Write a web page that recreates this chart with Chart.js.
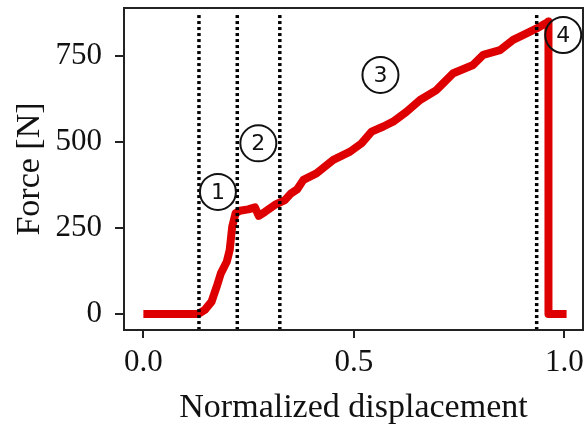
<!DOCTYPE html>
<html>
<head>
<meta charset="utf-8">
<title>Force vs displacement</title>
<script src="https://cdn.jsdelivr.net/npm/chart.js@4.4.1/dist/chart.umd.min.js"></script>
<style>
  html, body { margin: 0; padding: 0; background: #fff; }
  #wrap { width: 585px; height: 427px; }
</style>
</head>
<body>
<div id="wrap"><canvas id="forceChart" width="585" height="427"></canvas></div>
<script>
// Messkurve
const dispX = [0, 0.130, 0.146, 0.162, 0.174, 0.184, 0.198, 0.205, 0.211, 0.219,
  0.229, 0.249, 0.265, 0.274, 0.289, 0.312, 0.336, 0.350, 0.365, 0.380,
  0.411, 0.451, 0.491, 0.518, 0.542, 0.570, 0.593, 0.625, 0.657, 0.696,
  0.704, 0.736, 0.783, 0.807, 0.847, 0.878, 0.910, 0.934, 0.958, 0.962,
  0.962, 1.005];
const forceY = [0, 0, 12, 36, 79, 118, 152, 186, 254, 293,
  300, 304, 310, 285, 297, 317, 331, 350, 362, 390,
  409, 448, 472, 496, 530, 545, 559, 588, 622, 651,
  661, 700, 724, 753, 767, 797, 816, 830, 847, 850,
  0, 0];

// Phasengrenzen (gepunktete Linien)
const phaseX = [0.132, 0.223, 0.324, 0.934];
const phaseTop = 869;
const phaseBottom = -50;

// Markierungen 1-4
const markX = [0.177, 0.273, 0.563, 0.997];
const markY = [355, 496, 695, 811];
const markText = ["1", "2", "3", "4"];

// Achsen
const xTicks = [0, 0.5, 1.0];
const yTicks = [0, 250, 500, 750];
const xRange = [-0.046, 1.044];
const yRange = [-46.5, 889.5];

const serif = "'Liberation Serif', 'Times New Roman', serif";

const datasets = phaseX.map(x => ({
  data: [{ x: x, y: phaseTop }, { x: x, y: phaseBottom }],
  showLine: true,
  borderColor: "#000",
  borderWidth: 3.5,
  borderDash: [3, 3],
  pointRadius: 0
}));
datasets.push({
  data: dispX.map((x, i) => ({ x: x, y: forceY[i] })),
  showLine: true,
  borderColor: "rgb(222,0,0)",
  borderWidth: 8,
  borderJoinStyle: "round",
  borderCapStyle: "butt",
  pointRadius: 0,
  tension: 0
});

// Rahmen wie bei matplotlib
const framePlugin = {
  id: "frame",
  afterDatasetsDraw(chart) {
    const a = chart.chartArea;
    const ctx = chart.ctx;
    ctx.save();
    ctx.strokeStyle = "#222";
    ctx.lineWidth = 2;
    ctx.strokeRect(a.left, a.top, a.right - a.left, a.bottom - a.top);
    ctx.restore();
  }
};

// Kreise mit Ziffern
const markPlugin = {
  id: "marks",
  afterDraw(chart) {
    const ctx = chart.ctx;
    const xs = chart.scales.x;
    const ys = chart.scales.y;
    ctx.save();
    markText.forEach((t, i) => {
      const px = xs.getPixelForValue(markX[i]);
      const py = ys.getPixelForValue(markY[i]);
      ctx.beginPath();
      ctx.arc(px, py, 18, 0, Math.PI * 2);
      ctx.strokeStyle = "#111";
      ctx.lineWidth = 2;
      ctx.stroke();
      ctx.fillStyle = "#111";
      ctx.font = "22px 'DejaVu Sans', sans-serif";
      ctx.textAlign = "center";
      ctx.textBaseline = "middle";
      ctx.fillText(t, px, py + 1);
    });
    ctx.restore();
  }
};

// eslint-disable-next-line no-undef
new Chart(document.getElementById("forceChart"), {
  type: "scatter",
  data: { datasets: datasets },
  plugins: [framePlugin, markPlugin],
  options: {
    responsive: false,
    animation: false,
    layout: { padding: { top: 8, right: 2, left: 0, bottom: 0 } },
    plugins: { legend: { display: false }, tooltip: { enabled: false } },
    scales: {
      x: {
        type: "linear",
        min: xRange[0],
        max: xRange[1],
        afterBuildTicks: scale => { scale.ticks = xTicks.map(v => ({ value: v })); },
        afterFit: scale => {
          scale.height = 97;
          scale.paddingLeft = 0;
          scale.paddingRight = 0;
        },
        border: { display: false },
        grid: { drawOnChartArea: false, drawTicks: true, tickLength: 8, color: "#222", lineWidth: 2 },
        ticks: {
          color: "#111",
          font: { family: serif, size: 31 },
          padding: 6,
          maxRotation: 0,
          autoSkip: false,
          callback: v => v.toFixed(1)
        },
        title: {
          display: true,
          text: "Normalized displacement",
          color: "#111",
          font: { family: serif, size: 34, lineHeight: 1.0 },
          padding: { top: 0, bottom: 1.5 }
        }
      },
      y: {
        type: "linear",
        min: yRange[0],
        max: yRange[1],
        afterBuildTicks: scale => { scale.ticks = yTicks.map(v => ({ value: v })); },
        afterFit: scale => {
          scale.width = 124;
          scale.paddingTop = 0;
          scale.paddingBottom = 0;
        },
        border: { display: false },
        grid: { drawOnChartArea: false, drawTicks: true, tickLength: 9, color: "#222", lineWidth: 2 },
        ticks: {
          color: "#111",
          font: { family: serif, size: 31 },
          padding: 13,
          autoSkip: false,
          callback: v => String(v)
        },
        title: {
          display: true,
          text: "Force [N]",
          color: "#111",
          font: { family: serif, size: 34, lineHeight: 1.0 },
          padding: { top: 13.5, bottom: 0 }
        }
      }
    }
  }
});
</script>
</body>
</html>
